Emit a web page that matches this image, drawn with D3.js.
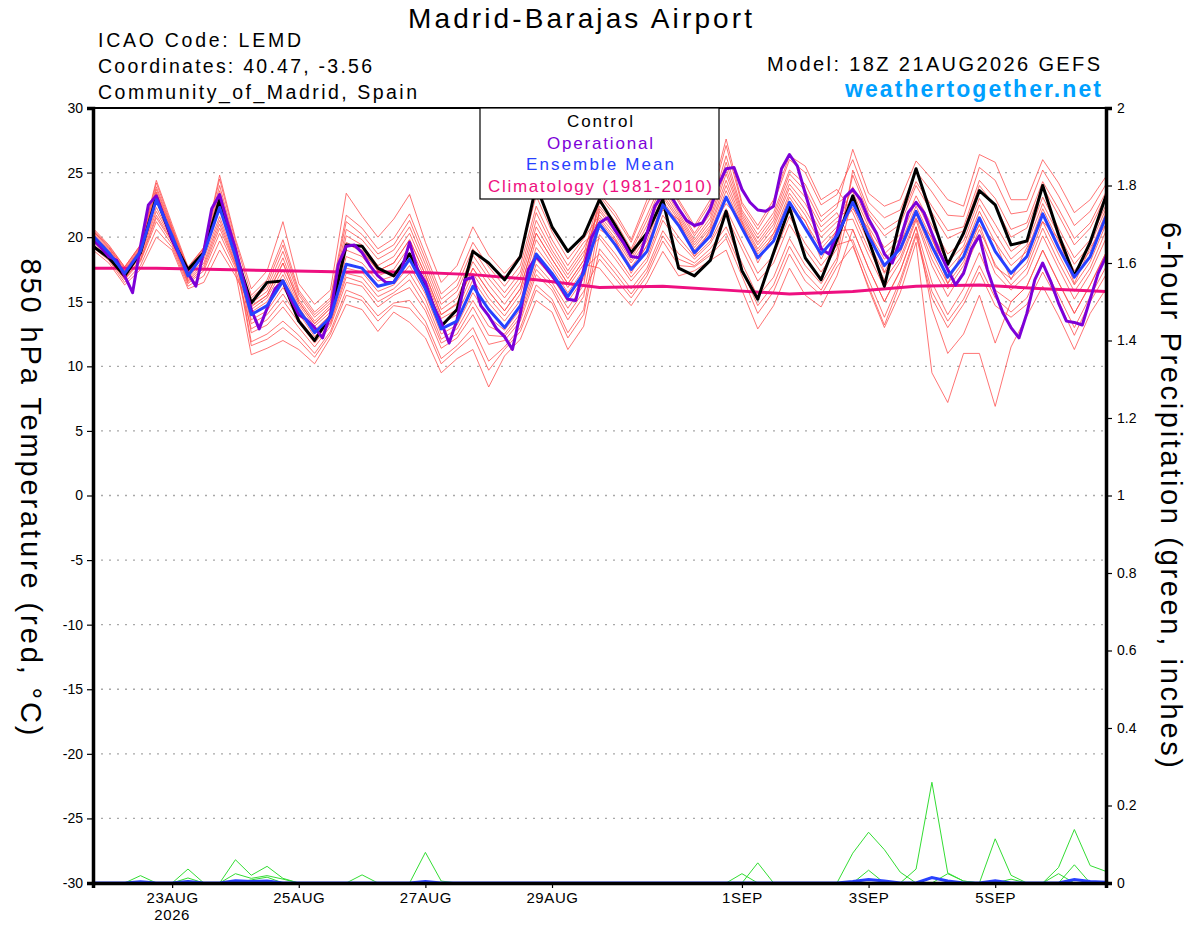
<html>
<head>
<meta charset="utf-8">
<title>Madrid-Barajas GEFS</title>
<style type="text/css">
    body{ margin:0px; padding:0px; background:#fff; }
    svg{ width:1200px; height:927px; font-family:"Liberation Sans", Arial, sans-serif; }
    .grid line{ stroke:#a8a8a8; stroke-width:1.3px; stroke-dasharray:2,6; }
    .member{ fill:none; stroke:#ff4a4a; stroke-width:0.9px; stroke-opacity:0.85; }
    .pmember{ fill:none; stroke:#33dd33; stroke-width:1px; }
</style>
<script src="https://d3js.org/d3.v7.min.js"></script>
<script type="text/javascript">
// forecast starts 18Z 21AUG2026, 6-hourly steps (operational is 3-hourly)
var stepHours = 6, opStepHours = 3, climStepHours = 24, totalHours = 384;

var tempTicks = [-30,-25,-20,-15,-10,-5,0,5,10,15,20,25,30];
var precipTicks = [0,0.2,0.4,0.6,0.8,1,1.2,1.4,1.6,1.8,2];
var dateTickHours = [30,78,126,174,246,294,342];
var dateTickLabels = ["23AUG","25AUG","27AUG","29AUG","1SEP","3SEP","5SEP"];
var yearLabel = "2026";

var control = [19.3,18.4,17.0,18.8,23.1,19.8,17.5,18.8,22.9,18.8,14.9,16.5,16.6,13.5,12.0,13.9,
  19.4,19.3,17.6,17.0,18.7,16.3,13.1,14.4,18.9,18.0,16.7,18.5,24.0,20.8,18.9,20.1,
  22.9,20.9,18.8,20.3,22.9,17.6,17.0,18.2,22.0,17.4,15.2,18.8,22.3,18.4,16.7,19.8,
  23.2,19.8,16.2,21.4,25.3,21.6,17.9,20.3,23.6,22.5,19.4,19.7,24.0,20.2,17.0,19.6,23.2];

var ensMean = [20.1,18.8,17.2,18.9,22.9,20.1,17.0,18.7,22.3,18.5,14.0,14.7,16.6,14.4,12.6,13.8,
  17.9,17.6,16.2,16.5,18.3,16.0,12.9,13.5,16.2,14.4,13.0,14.7,18.7,17.2,15.4,17.2,
  21.0,19.4,17.5,18.9,22.5,20.9,18.8,20.1,23.1,20.7,18.4,19.7,22.7,20.7,18.7,20.1,
  22.7,20.1,17.8,19.1,22.0,19.3,16.9,18.5,21.5,18.9,17.2,18.5,21.8,19.2,16.9,18.5,21.6];

var operational = [19.8,19.2,18.5,18.2,17.0,15.7,19.3,22.5,23.2,21.5,19.8,18.5,17.2,16.2,18.9,22.2,
  23.3,21.1,19.1,16.7,14.4,12.9,14.5,16.0,16.6,15.2,14.0,13.6,13.0,12.2,14.0,17.9,
  19.3,19.4,18.8,17.8,17.0,16.5,16.5,17.5,19.6,17.5,16.5,14.7,13.4,11.8,13.6,16.7,
  16.9,14.7,13.9,12.9,12.3,11.3,14.1,17.5,18.5,17.8,17.0,16.2,15.2,15.1,17.5,20.0,
  21.1,21.5,20.5,19.6,18.5,18.4,20.3,22.4,23.3,23.2,22.2,21.3,20.9,21.1,22.2,24.0,
  25.3,25.4,23.7,22.7,22.1,22.0,22.4,25.3,26.4,25.5,23.4,21.3,19.1,18.7,20.3,23.1,
  23.7,22.9,21.4,20.3,18.7,18.0,19.8,21.9,22.7,21.9,20.3,18.8,17.5,16.3,17.2,19.1,
  20.1,17.5,15.7,14.1,13.0,12.2,14.1,16.7,18.0,16.6,14.9,13.5,13.4,13.2,15.2,17.2,18.5];

var climatology = [17.6,17.6,17.5,17.4,17.3,17.3,17.1,16.7,16.1,16.2,15.9,15.6,15.8,16.2,16.3,16.0,15.8];

var member01 = [20.7,19.4,17.7,19.4,24.4,21.0,17.7,19.2,24.8,19.9,16.0,17.4,21.2,16.4,14.8,15.9,
  23.4,21.6,20.0,21.4,23.3,19.6,16.5,17.8,20.8,18.6,17.2,18.6,23.2,20.4,18.3,19.9,
  21.7,20.2,18.2,20.1,23.3,21.5,19.4,20.9,24.4,21.3,19.1,20.7,23.8,22.1,20.0,21.2,
  21.4,18.6,16.1,18.1,21.3,17.8,15.4,17.4,20.1,17.2,15.9,17.1,20.1,17.6,15.2,17.2,19.9];
var member02 = [19.2,18.2,16.5,17.8,20.6,19.2,16.2,17.0,19.7,17.3,10.9,11.4,12.0,11.3,10.2,12.2,
  14.8,14.4,12.7,14.2,13.4,12.2,9.5,10.6,11.3,8.4,10.8,12.1,15.1,14.2,11.3,13.1,
  19.1,17.6,16.0,17.6,20.5,18.7,18.0,19.1,20.8,18.0,15.4,16.9,19.9,17.8,16.4,18.4,
  25.2,22.1,20.6,21.4,24.3,22.4,20.5,20.8,24.4,23.0,20.6,21.1,24.3,22.2,19.9,21.1,23.5];
var member03 = [20.3,19.0,17.4,19.1,23.4,20.4,17.2,18.9,23.1,19.0,14.9,15.8,18.4,15.2,13.5,14.7,
  20.1,19.4,17.8,18.5,20.3,17.5,14.4,15.3,18.1,16.3,14.8,16.5,20.8,18.7,16.8,18.6,
  23.2,21.6,19.6,22.5,25.0,22.7,20.7,22.6,27.1,22.5,20.6,22.6,26.0,25.0,22.5,23.3,
  26.0,22.7,21.5,22.1,25.1,23.5,21.7,21.6,25.4,24.4,21.8,22.0,25.2,23.2,20.9,22.0,24.1];
var member04 = [19.8,18.6,16.9,18.5,22.0,19.8,16.7,18.0,21.3,18.0,14.4,15.3,17.5,14.8,13.1,14.2,
  19.0,18.5,17.0,17.5,19.3,16.8,13.7,14.4,17.2,15.3,13.9,15.6,19.8,17.9,16.1,17.9,
  17.6,16.1,14.7,16.5,18.9,17.0,17.4,18.2,19.0,15.9,12.9,14.7,17.6,15.5,14.6,17.0,
  20.6,17.6,15.0,17.4,20.8,16.5,14.0,16.0,18.8,15.9,15.0,16.2,19.0,16.5,14.1,16.3,18.8];
var member05 = [20.5,19.2,17.5,19.2,23.7,20.6,17.4,19.0,23.6,19.2,12.6,13.2,14.6,13.0,11.5,13.1,
  16.5,16.2,14.6,15.5,16.1,14.3,11.4,12.2,14.0,11.7,12.0,13.5,17.1,15.9,13.6,15.4,
  22.2,20.6,18.6,20.9,23.9,21.9,19.8,21.5,25.3,21.7,19.6,21.3,24.5,23.1,20.8,21.9,
  19.5,16.0,13.0,15.7,19.6,9.5,7.2,11.0,11.0,6.9,11.5,13.9,16.2,13.9,11.3,14.1,16.0];
var member06 = [19.6,18.4,16.8,18.2,21.5,19.6,16.5,17.6,20.7,17.8,15.3,16.4,19.4,15.7,14.0,15.1,
  21.2,20.2,18.7,19.4,21.3,18.3,15.2,16.2,19.1,17.2,15.7,17.3,21.9,19.4,17.4,19.2,
  21.5,19.9,18.0,19.7,23.1,21.3,19.2,20.7,24.0,21.1,18.9,20.3,23.4,21.7,19.5,20.8,
  23.9,21.1,19.2,20.2,23.2,20.9,18.7,19.7,23.0,21.0,18.9,19.8,23.1,20.7,18.4,19.8,22.5];
var member07 = [20.0,18.8,17.1,18.9,22.8,20.0,17.0,18.6,22.2,18.5,11.6,12.1,13.0,12.0,10.7,12.5,
  15.5,15.1,13.5,14.7,14.5,13.1,10.2,11.3,12.4,9.7,11.3,12.7,15.9,14.9,12.2,14.0,
  20.2,18.7,16.9,18.4,21.7,20.0,18.5,19.7,22.2,19.6,17.2,18.6,21.6,19.5,17.8,19.4,
  19.8,16.7,13.8,16.7,20.3,15.8,13.5,15.2,17.8,15.3,14.2,15.3,17.9,15.5,13.0,15.4,17.7];
var member08 = [20.5,19.2,17.6,19.3,23.9,20.7,17.5,19.1,24.0,19.4,14.2,15.0,17.1,14.6,12.8,14.0,
  18.5,18.0,16.6,17.0,18.8,16.4,13.3,14.0,16.7,14.9,13.5,15.1,19.2,17.6,15.7,17.5,
  18.7,17.2,15.6,17.3,20.1,18.3,17.8,18.8,20.3,17.5,14.7,16.3,19.3,17.2,15.9,18.1,
  23.1,20.4,18.3,19.5,22.4,19.8,17.5,18.9,22.0,19.6,17.8,18.9,22.2,19.7,17.4,18.9,21.9];
var member09 = [19.0,18.0,16.3,17.5,20.0,19.0,16.0,16.5,19.0,17.0,14.6,15.5,18.0,15.0,13.3,14.5,
  19.6,19.0,17.4,18.0,19.8,17.1,14.0,14.9,17.6,15.8,14.3,16.0,20.3,18.3,16.4,18.2,
  22.4,20.9,18.9,21.3,24.2,22.1,20.1,21.8,25.8,21.9,19.9,21.6,24.9,23.6,21.2,22.3,
  26.8,23.4,22.4,22.9,25.9,24.5,22.9,22.4,26.4,25.8,22.9,22.9,26.0,24.2,21.9,22.9,24.7];
var member10 = [20.2,18.9,17.3,19.0,23.2,20.3,17.1,18.8,22.8,18.8,13.3,14.0,15.6,13.7,12.1,13.4,
  17.2,16.9,15.4,16.0,17.2,15.2,12.1,12.9,15.1,13.1,12.5,14.1,17.9,16.5,14.5,16.3,
  23.4,21.9,19.8,22.9,25.3,22.9,20.9,22.9,27.6,22.7,20.9,22.9,26.3,25.5,22.9,23.7,
  21.9,19.1,16.7,18.4,21.5,18.3,16.0,17.8,20.6,17.9,16.3,17.6,20.7,18.1,15.8,17.6,20.5];
var member11 = [19.9,18.6,17.0,18.6,22.3,19.9,16.8,18.3,21.6,18.2,15.1,16.1,18.9,15.5,13.8,14.9,
  20.6,19.8,18.3,19.0,20.8,17.9,14.8,15.8,18.6,16.8,15.3,16.9,21.3,19.0,17.1,18.9,
  19.9,18.3,16.6,18.1,21.3,19.6,18.3,19.5,21.7,19.1,16.6,18.0,21.0,19.0,17.3,19.1,
  24.8,21.8,20.1,21.0,24.0,21.9,19.9,20.5,24.0,22.4,20.0,20.7,23.9,21.7,19.4,20.7,23.2];
var member12 = [20.2,18.9,17.3,19.0,23.0,20.2,17.1,18.8,22.6,18.7,11.9,12.5,13.5,12.4,11.0,12.7,
  15.9,15.4,13.9,14.9,15.1,13.5,10.6,11.6,13.0,10.4,11.5,13.0,16.3,15.2,12.6,14.4,
  21.3,19.7,17.7,19.3,22.8,21.1,19.0,20.4,23.6,20.9,18.7,20.0,23.1,21.2,19.1,20.5,
  20.6,17.6,15.0,17.4,20.8,14.5,11.0,12.5,15.5,11.8,15.0,16.2,19.0,16.5,14.1,16.3,18.8];
var member13 = [20.6,19.3,17.7,19.4,24.2,20.8,17.6,19.2,24.5,19.7,15.5,16.7,19.8,15.9,14.2,15.3,
  21.7,20.7,19.1,19.9,21.8,18.7,15.6,16.7,19.6,17.7,16.2,17.8,22.4,19.8,17.8,19.6,
  20.6,19.8,17.2,19.4,22.1,21.4,18.5,20.6,22.6,21.2,18.0,20.3,22.2,21.3,18.3,20.6,
  22.2,20.7,17.3,19.7,21.4,20.0,16.4,19.1,20.9,19.6,16.7,19.2,21.2,19.9,16.4,19.2,21.0];
var member14 = [19.4,18.3,16.7,18.1,21.2,19.4,16.4,17.4,20.3,17.6,12.9,13.6,15.1,13.4,11.8,13.3,
  16.9,16.5,15.0,15.7,16.7,14.7,11.8,12.5,14.6,12.4,12.3,13.8,17.5,16.2,14.0,15.8,
  18.3,16.8,15.3,17.0,19.7,17.8,17.7,18.6,19.9,17.0,14.1,15.8,18.7,16.6,15.5,17.7,
  19.3,16.2,13.2,16.4,20.1,15.3,13.0,14.8,17.3,14.7,13.8,14.8,17.3,15.0,12.4,15.0,17.1];
var member15 = [20.4,19.1,17.4,19.1,23.5,20.5,17.3,18.9,23.3,19.1,13.6,14.3,16.1,14.1,12.3,13.6,
  17.6,17.3,15.8,16.3,17.8,15.6,12.5,13.2,15.7,13.8,12.8,14.4,18.3,16.9,15.0,16.8,
  22.0,20.4,18.4,20.5,23.6,21.7,19.6,21.2,24.9,21.5,19.4,21.0,24.1,22.6,20.4,21.5,
  22.3,19.6,17.2,18.8,21.8,18.8,16.4,18.1,21.0,17.7,16.8,18.0,21.2,18.7,16.3,18.1,21.0];
var member16 = [19.7,18.5,16.8,18.3,21.7,19.7,16.6,17.8,21.0,17.9,14.7,15.5,18.0,15.0,13.3,14.5,
  19.5,18.9,17.4,18.0,19.8,17.1,14.0,14.8,17.6,15.8,14.3,16.0,20.3,18.3,16.4,18.2,
  22.7,21.2,19.1,21.7,24.5,22.3,20.3,22.1,26.3,22.1,20.2,21.9,25.2,24.1,21.6,22.6,
  23.5,20.8,18.7,19.9,22.8,20.3,18.1,19.3,22.5,20.3,18.3,19.4,22.6,20.2,17.9,19.4,22.2];

var members = [member01,member02,member03,member04,member05,member06,member07,member08,
  member09,member10,member11,member12,member13,member14,member15,member16];

// 6-hour precipitation (inches)
var precip01 = [0,0,0,.019,0,0,0,0,0,.06,.02,.043,.012,0,0,0,0,0,0,0,0,.079,.005,0,0,0,0,0,0,0,0,0,
  0,0,0,0,0,0,0,0,0,0,0,0,0,0,0,0,.077,.131,.086,.028,0,0,0,0,0,0,0,0,0,0,0,0,0];
var precip02 = [0,0,0,0,0,0,.036,0,0,.024,.012,.019,.01,0,0,0,0,.021,0,0,0,0,0,0,0,0,0,0,0,0,0,0,
  0,0,0,0,0,0,0,0,0,0,0,0,0,0,0,0,0,0,0,0,.036,.26,.026,.005,0,0,0,0,0,0,0,0,0];
var precip03 = [0,0,0,0,0,0,.013,0,0,0,0,0,0,0,0,0,0,0,0,0,0,0,0,0,0,0,0,0,0,0,0,0,
  0,0,0,0,0,0,0,0,0,.024,0,0,0,0,0,0,0,0,0,0,0,0,0,0,0,.114,.02,0,0,0,0,0,0];
var precip04 = [0,0,0,0,0,0,0,0,0,0,0,0,0,0,0,0,0,0,0,0,0,0,0,0,0,0,0,0,0,0,0,0,
  0,0,0,0,0,0,0,0,0,0,.052,0,0,0,0,0,0,0,0,0,0,0,0,0,0,0,0,0,0,.04,.138,.045,.03];
var precip05 = [0,0,0,0,0,0,0,0,0,0,0,0,0,0,0,0,0,0,0,0,0,0,0,0,0,0,0,0,0,0,0,0,
  0,0,0,0,0,0,0,0,0,0,0,0,0,0,0,0,0,.033,0,0,0,0,.024,.005,0,0,0,0,0,.024,0,0,0];
var precip06 = [0,0,0,0,0,0,0,0,0,0,.008,.015,0,0,0,0,0,0,0,0,0,0,0,0,0,0,0,0,0,0,0,0,
  0,0,0,0,0,0,0,0,0,0,0,0,0,0,0,0,0,0,0,0,0,0,0,0,0,0,.01,0,0,0,.047,0,0];
var precipMean = [0,0,0,.003,0,0,.004,0,0,.006,.004,.005,0,0,0,0,0,0,0,0,0,.004,0,0,0,0,0,0,0,0,0,0,
  0,0,0,0,0,0,0,0,0,0,0,0,0,0,0,0,.004,.009,.005,0,0,.014,.005,0,0,.006,0,0,0,0,.009,.004,.002];

var precipMembers = [precip01,precip02,precip03,precip04,precip05,precip06];

// the plotting font is wider than Liberation Sans, so long texts get a fixed length
function wideText(sel, len){
    return sel.attr("textLength",len).attr("lengthAdjust","spacing");
}

window.onload = function()
{
    var left = 93, right = 1106, top = 108, bottom = 883;
    var svg = d3.select("body").append("svg");

    var x = d3.scaleLinear().domain([0,totalHours]).range([left,right]);
    var yT = d3.scaleLinear().domain([-30,30]).range([bottom,top]);
    var yP = d3.scaleLinear().domain([0,2]).range([bottom,top]);

    // dotted grid
    svg.append("g").attr("class","grid").selectAll("line")
        .data(tempTicks.filter(function(t){ return t>-30 && t<30; }))
        .enter().append("line")
        .attr("x1",left).attr("x2",right)
        .attr("y1",function(d){ return yT(d); }).attr("y2",function(d){ return yT(d); });

    var lineT = function(step){
        return d3.line().x(function(d,i){ return x(i*step); }).y(function(d){ return yT(d); });
    };
    var lineP = d3.line().x(function(d,i){ return x(i*stepHours); }).y(function(d){ return yP(d); });

    // ensemble members
    svg.append("g").selectAll("path").data(members).enter().append("path")
        .attr("class","member").attr("d",lineT(stepHours));

    // precipitation members
    svg.append("g").selectAll("path").data(precipMembers).enter().append("path")
        .attr("class","pmember").attr("d",lineP);
    svg.append("path").attr("d",lineP(precipMean))
        .attr("fill","none").attr("stroke","#2841ff").attr("stroke-width",3);

    svg.append("path").attr("d",lineT(climStepHours)(climatology))
        .attr("fill","none").attr("stroke","#ee1080").attr("stroke-width",3);
    svg.append("path").attr("d",lineT(stepHours)(control))
        .attr("fill","none").attr("stroke","#000").attr("stroke-width",3).attr("stroke-linejoin","round");
    svg.append("path").attr("d",lineT(opStepHours)(operational))
        .attr("fill","none").attr("stroke","#7d00d8").attr("stroke-width",3).attr("stroke-linejoin","round");
    svg.append("path").attr("d",lineT(stepHours)(ensMean))
        .attr("fill","none").attr("stroke","#2841ff").attr("stroke-width",3).attr("stroke-linejoin","round");

    // frame
    svg.append("line").attr("x1",left).attr("x2",right).attr("y1",top).attr("y2",top)
        .attr("stroke","#000").attr("stroke-width",2);

    // axes
    var axL = svg.append("g").attr("transform","translate("+left+",0)")
        .call(d3.axisLeft(yT).tickValues(tempTicks).tickSize(6).tickPadding(4)
            .tickFormat(function(d){ return String(d); }));
    var axR = svg.append("g").attr("transform","translate("+right+",0)")
        .call(d3.axisRight(yP).tickValues(precipTicks).tickSize(6).tickPadding(5)
            .tickFormat(function(d){ return d===0||d===1||d===2 ? String(d) : d.toFixed(1); }));
    var axB = svg.append("g").attr("transform","translate(0,"+bottom+")")
        .call(d3.axisBottom(x).tickValues(dateTickHours).tickSize(5).tickPadding(4)
            .tickFormat(function(d,i){ return dateTickLabels[i]; }));
    [axL,axR,axB].forEach(function(a){
        a.select(".domain").attr("stroke-width",3.5).attr("stroke","#000");
        a.selectAll(".tick line").attr("stroke","#000").attr("stroke-width",1.2);
        a.selectAll("text").attr("font-family","Liberation Sans, Arial, sans-serif").attr("fill","#000");
    });
    axL.selectAll("text").attr("font-size",14);
    axR.selectAll("text").attr("font-size",14);
    axB.selectAll("text").attr("font-size",15).attr("letter-spacing",0.6);
    svg.append("text").attr("x",x(dateTickHours[0])).attr("y",920).attr("text-anchor","middle")
        .attr("font-size",15).attr("letter-spacing",0.6).text(yearLabel);

    // legend
    svg.append("rect").attr("x",480).attr("y",top).attr("width",239).attr("height",91)
        .attr("fill","#fff").attr("stroke","#000").attr("stroke-width",1.2);
    var legend = [["Control","#000",66],["Operational","#7d00d8",106],
                  ["Ensemble Mean","#2841ff",148],["Climatology (1981-2010)","#ee1080",224]];
    legend.forEach(function(d,i){
        wideText(svg.append("text").attr("x",600).attr("y",127+i*21.7)
            .attr("text-anchor","middle").attr("font-size",17)
            .attr("fill",d[1]).text(d[0]), d[2]);
    });

    // titles
    wideText(svg.append("text").attr("x",580).attr("y",28).attr("text-anchor","middle")
        .attr("font-size",28).text("Madrid-Barajas Airport"), 344);
    var info = [["ICAO Code: LEMD",203],["Coordinates: 40.47, -3.56",274],["Community_of_Madrid, Spain",319]];
    info.forEach(function(d,i){
        wideText(svg.append("text").attr("x",98).attr("y",47+i*26)
            .attr("font-size",19.5).text(d[0]), d[1]);
    });
    wideText(svg.append("text").attr("x",767).attr("y",71)
        .attr("font-size",20).text("Model: 18Z 21AUG2026 GEFS"), 333);
    wideText(svg.append("text").attr("x",845).attr("y",97)
        .attr("font-size",23).attr("font-weight","bold").attr("fill","#00a0ff").text("weathertogether.net"), 256);

    wideText(svg.append("text").attr("transform","translate(21,497) rotate(90)").attr("text-anchor","middle")
        .attr("font-size",29).text("850 hPa Temperature (red, \u00B0C)"), 477);
    wideText(svg.append("text").attr("transform","translate(1161,495) rotate(90)").attr("text-anchor","middle")
        .attr("font-size",29).text("6-hour Precipitation (green, inches)"), 546);
}
</script>
</head>
<body>
</body>
</html>
